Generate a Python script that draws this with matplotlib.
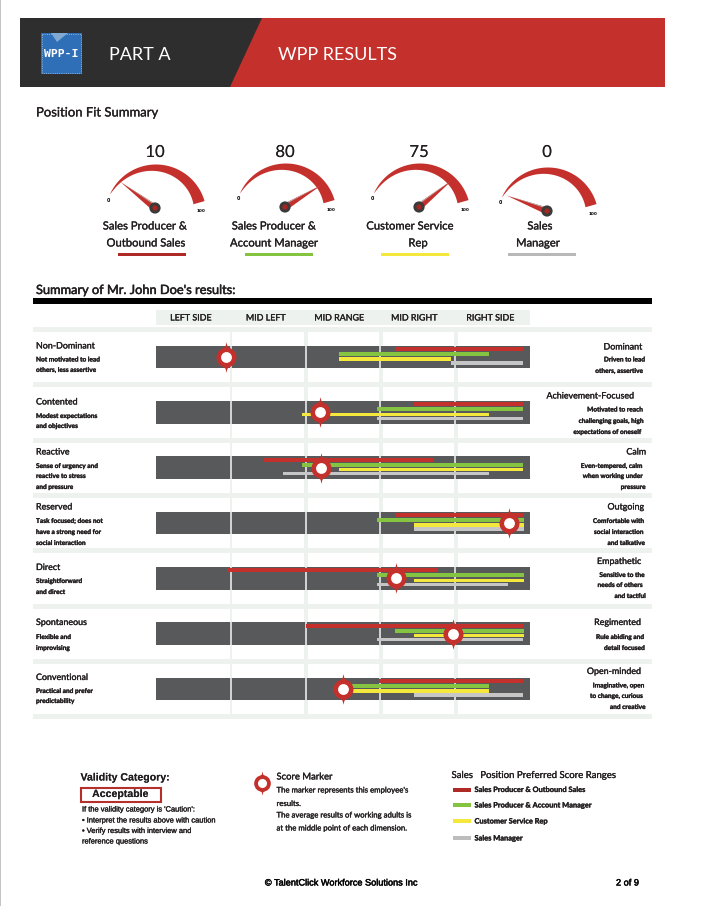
import numpy as np
import matplotlib
matplotlib.use("Agg")
import matplotlib.pyplot as plt
import matplotlib.patheffects as pe
from matplotlib.patches import Polygon, Rectangle, Circle
from matplotlib.path import Path

# gauges
gauge_values = [10, 80, 75, 0]
gauge_names = [["Sales Producer &", "Outbound Sales"], ["Sales Producer &", "Account Manager"],
               ["Customer Service", "Rep"], ["Sales", "Manager"]]

# positions of the job families, used for underlines, bars and legend
position_names = ["Sales Producer & Outbound Sales", "Sales Producer & Account Manager",
                  "Customer Service Rep", "Sales Manager"]

zones = ["LEFT SIDE", "MID LEFT", "MID RANGE", "MID RIGHT", "RIGHT SIDE"]

left_heads = ["Non-Dominant", "Contented", "Reactive", "Reserved", "Direct", "Spontaneous", "Conventional"]
left_subs = [["Not motivated to lead", "others, less assertive"],
             ["Modest expectations", "and objectives"],
             ["Sense of urgency and", "reactive to stress", "and pressure"],
             ["Task focused; does not", "have a strong need for", "social interaction"],
             ["Straightforward", "and direct"],
             ["Flexible and", "improvising"],
             ["Practical and prefer", "predictability"]]
right_heads = ["Dominant", "Achievement-Focused", "Calm", "Outgoing", "Empathetic", "Regimented", "Open-minded"]
right_subs = [["Driven to lead", "others, assertive"],
              ["Motivated to reach", "challenging goals, high", "expectations of oneself"],
              ["Even-tempered, calm", "when working under", "pressure"],
              ["Comfortable with", "social interaction", "and talkative"],
              ["Sensitive to the", "needs of others", "and tactful"],
              ["Rule abiding and", "detail focused"],
              ["Imaginative, open", "to change, curious", "and creative"]]

range_producer_outbound = [(64, 98), (69, 98), (29, 74), (64, 98), (19, 75), (40, 98), (59.5, 98)]
range_producer_account = [(49, 89), (59, 98), (39, 98), (59, 98.5), (59, 98.5), (64, 98.5), (49, 89)]
range_service_rep = [(49, 79), (39, 89), (49, 98), (69, 98.5), (69, 98.5), (69, 98.5), (49, 89)]
range_sales_manager = [(79, 98), (59, 98), (34, 89), (69, 98.5), (59, 94), (59, 98), (69, 98)]
all_ranges = [range_producer_outbound, range_producer_account, range_service_rep, range_sales_manager]

marker_scores = [18.7, 43.9, 44.1, 94.4, 64.2, 79.4, 50]

RED = "#c4302b"
DARK_RED = "#ad2a26"
GREEN = "#84c441"
YELLOW = "#f4e83c"
GRAY = "#c6c6c6"
BAR = "#58595b"
PALE = "#edf2ef"
TEXT = "#231f20"
FONT = "Lato"

fig = plt.figure(figsize=(7.01, 9.06), dpi=100)
page = fig.add_axes([0, 0, 1, 1])
page.set_xlim(0, 701)
page.set_ylim(906, 0)
page.axis("off")


def label(x, y, s, size=8, ha="left", weight="normal", color=TEXT, family=FONT, heavy=0.2):
    t = page.text(x, y, s, fontsize=size, ha=ha, va="center", fontweight=weight, color=color, family=family)
    # the scan makes all the type look a bit fatter
    t.set_path_effects([pe.withStroke(linewidth=heavy, foreground=color)])
    return t


def rect(x0, y0, x1, y1, color, z=1):
    page.add_patch(Rectangle((x0, y0), x1 - x0, y1 - y0, facecolor=color, edgecolor="none", zorder=z))


# left edge of the scanned page
rect(0, 0, 1, 906, "#c4c4c4")

# header
rect(20, 18, 665, 87, RED)
page.add_patch(Polygon([(20, 18), (262, 18), (230, 87), (20, 87)], facecolor="#2e2e2e", edgecolor="none", zorder=2))
rect(41, 33, 82, 74, "#2f6fb7", 3)
page.add_patch(Rectangle((42, 34), 39, 39, facecolor="none", edgecolor="#a9c8e8", lw=0.6, ls=":", zorder=4))
page.add_patch(Polygon([(51, 33), (68, 33), (57, 42)], facecolor="#7fa9d1", edgecolor="none", zorder=4))
page.text(61.5, 54, "WPP-I", fontsize=8.2, color="white", fontweight="bold", ha="center", va="center",
          family="DejaVu Sans Mono", zorder=5)
page.text(109, 54.5, "PART A", fontsize=13, color="white", va="center", family=FONT, zorder=5)
page.text(278, 54.5, "WPP RESULTS", fontsize=13, color="white", va="center", family=FONT, zorder=5)

label(36, 112.5, "Position Fit Summary", 9.4)
label(36, 290, "Summary of Mr. John Doe's results:", 9.2, heavy=0.35)

# gauges
hub_x = [155, 285, 419, 547]
hub_y = [208, 207, 207, 211]
name_x = [[145, 146], [274, 274], [410, 418], [540, 538]]
under_x = [118, 245, 381, 508]
colors = [DARK_RED, GREEN, YELLOW, "#b8b8b8"]

for i, v in enumerate(gauge_values):
    hx, hy = hub_x[i], hub_y[i]
    cx, cy = hx + 1, hy + 7
    s = np.linspace(0, 1, 60)
    t = np.radians(156 - 140 * s)
    thick = 11.5 * s ** 0.75
    outer = np.column_stack([cx + 50.5 * np.cos(t), cy - 50.5 * np.sin(t)])
    inner = np.column_stack([cx + (50.5 - thick) * np.cos(t), cy - (50.5 - thick) * np.sin(t)])
    page.add_patch(Polygon(np.vstack([outer, inner[::-1]]), facecolor=RED, edgecolor="none", zorder=2))

    # needle angle follows the score
    a = np.radians(159 - 1.6 * v)
    d = np.array([np.cos(a), -np.sin(a)])
    n = np.array([-d[1], d[0]])
    tip = np.array([hx, hy]) + 43 * d
    base = np.array([hx, hy])
    page.add_patch(Polygon([tip, base + 3.4 * n, base - 3.4 * n], facecolor=RED, edgecolor="none", zorder=3))
    side = n if d[0] > 0 else -n
    page.add_patch(Polygon([tip, base - 3.4 * side, base - 2.2 * side], facecolor="#b9b4b2", edgecolor="none", zorder=3))
    page.add_patch(Circle((hx, hy), 5.6, facecolor="#3a3a3a", edgecolor="none", zorder=4))
    page.add_patch(Circle((hx, hy), 2.6, facecolor="#a8241f", edgecolor="none", zorder=5))

    page.text(cx - 47.5, hy - 8, "0", fontsize=3.4, fontweight="bold", ha="center", va="center", color="black")
    page.text(cx + 45, hy + 3, "100", fontsize=3, fontweight="bold", ha="center", va="center", color="black")
    label(hx, 152, str(v), 12, ha="center", heavy=0)
    label(name_x[i][0], 226, gauge_names[i][0], 8.1, ha="center")
    label(name_x[i][1], 243, gauge_names[i][1], 8.1, ha="center")
    rect(under_x[i], 252.5, under_x[i] + 68, 255.5, colors[i])

# table frame
rect(33, 298, 652, 304, "black")
rect(156, 310, 530, 325, PALE)
zone_x = [190.5, 265.5, 339, 414, 490]
for z, zx in zip(zones, zone_x):
    label(zx, 318, z, 6.4, ha="center")

for k in range(8):
    y = 329.5 + 55.33 * k
    rect(33, y - 2.5, 652, y + 2.5, PALE)
for x0, x1 in [(229.5, 232), (304, 308), (379, 383), (454, 458)]:
    rect(x0, 327, x1, 717, PALE)

# row labels
left_y = [346, 402, 452, 507, 567.5, 622.5, 677.5]
left_sub_y = [[359, 369.5], [415.5, 425.5], [465.5, 475.5, 486.5], [520.5, 531.5, 542.5],
              [580.5, 591.5], [636.5, 647.5], [690.5, 700.5]]
right_y = [347, 396, 452, 507, 561.5, 622.5, 671.5]
right_x = [642, 634, 646, 644, 641, 641, 641]
right_sub_y = [[359, 370.5], [409, 420.5, 431.5], [465.5, 475.5, 486.5], [520.5, 531.5, 542.5],
               [574.5, 584.5, 595.5], [636.5, 647.5], [685, 695.5, 706.5]]
right_sub_x = [[645, 643], [643, 643.5, 641.5], [642, 643, 645.5], [644, 643.5, 645],
               [645, 643, 646], [644, 645], [644, 643, 645.5]]
for i in range(7):
    label(36, left_y[i], left_heads[i], 6.4)
    for s, y in zip(left_subs[i], left_sub_y[i]):
        label(36, y, s, 4.7, weight="bold")
    label(right_x[i], right_y[i], right_heads[i], 6.4, ha="right")
    for s, x, y in zip(right_subs[i], right_sub_x[i], right_sub_y[i]):
        label(x, y, s, 4.7, ha="right", weight="bold")

# score chart: x is the 0-100 scale, y is the row number
chart = fig.add_axes([156 / 701, 1 - 716.67 / 906, 374 / 701, 387.33 / 906], zorder=3)
chart.patch.set_alpha(0)
chart.set_xlim(0, 100)
chart.set_ylim(6.5, -0.5)
chart.axis("off")

rows = np.arange(7)
chart.barh(rows, 100, height=0.41, color=BAR, zorder=1)
for z in [20, 40, 60, 80]:
    chart.vlines(np.full(7, z), rows - 0.205, rows + 0.205, colors="#f4f7f5", lw=1.1, zorder=2)

offsets = [-0.145, -0.055, 0.035, 0.11]
heights = [0.072, 0.072, 0.06, 0.06]
bar_colors = [RED, GREEN, YELLOW, GRAY]
for ranges, off, h, col in zip(all_ranges, offsets, heights, bar_colors):
    lo = np.array([r[0] for r in ranges])
    hi = np.array([r[1] for r in ranges])
    chart.barh(rows + off, hi - lo, left=lo, height=h, color=col, zorder=3)

# spiky ring marker
spike = Path([(0, 1), (0.06, 0.74), (0.16, 0.64), (0.3, 0.5), (0.3, -0.5), (0.16, -0.64), (0.06, -0.74), (0, -1),
              (-0.06, -0.74), (-0.16, -0.64), (-0.3, -0.5), (-0.3, 0.5), (-0.16, 0.64), (-0.06, 0.74), (0, 1)],
             closed=True)
for s, r in zip(marker_scores, rows):
    chart.plot(s, r, marker=spike, ms=22, color=RED, mew=0, zorder=5, clip_on=False)
    chart.plot(s, r, marker="o", ms=14.4, color=RED, mew=0, zorder=6, clip_on=False)
    chart.plot(s, r, marker="o", ms=7.8, color="white", mew=0, zorder=7, clip_on=False)

# validity box
BOLD_FONT = "Liberation Sans"
label(80.5, 777.5, "Validity Category:", 7.6, weight="bold", family=BOLD_FONT, heavy=0)
page.add_patch(Rectangle((81, 787.5), 79.5, 14, facecolor="white", edgecolor="#b5302a", lw=1.5))
label(120, 794, "Acceptable", 7.6, ha="center", weight="bold", family=BOLD_FONT, heavy=0)
validity_lines = ["If the validity category is 'Caution':", "\u2022 Interpret the results above with caution",
                  "\u2022 Verify results with interview and", "reference questions"]
for s, y in zip(validity_lines, [810, 821, 831.5, 842]):
    label(82, y, s, 5.4, family=BOLD_FONT)

# marker key
page.plot(261.7, 783, marker=spike, ms=17.3, color=RED, mew=0, zorder=3)
page.plot(261.7, 783, marker="o", ms=12, color=RED, mew=0, zorder=4)
page.plot(261.7, 783, marker="o", ms=6.5, color="white", mew=0, zorder=5)
label(276.5, 777, "Score Marker", 6.8)
marker_lines = ["The marker represents this employee's", "results.",
                "The average results of working adults is", "at the middle point of each dimension."]
for s, y in zip(marker_lines, [790, 803.5, 815, 828]):
    label(276.5, y, s, 5.6)

# position legend
label(451.5, 775.5, "Sales   Position Preferred Score Ranges", 6.9)
legend_colors = [DARK_RED, GREEN, YELLOW, "#bdbdbd"]
for s, c, y in zip(position_names, legend_colors, [789.5, 805, 821, 838]):
    rect(453, y - 2, 471, y + 2, c)
    label(474.5, y, s, 5.35, weight="bold")

# footer
label(341.5, 883, "\u00a9 TalentClick Workforce Solutions Inc", 6.6, ha="center", family=BOLD_FONT, color="black", heavy=0.3)
label(616, 883, "2 of 9", 6.6, family=BOLD_FONT, color="black", heavy=0.3)

fig.savefig("out.png", dpi=100)
